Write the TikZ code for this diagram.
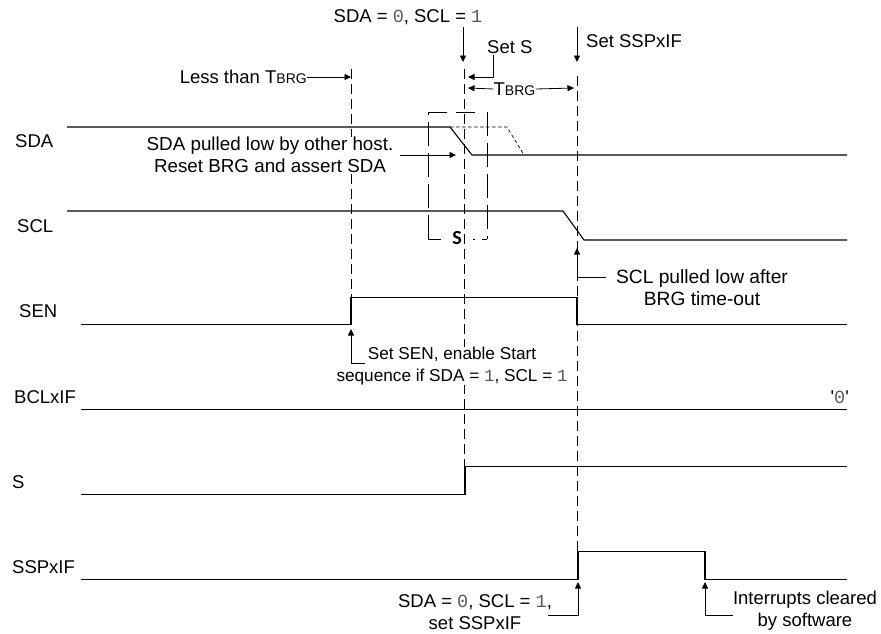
\documentclass[tikz,border=0pt]{standalone}
\usepackage{fontspec}
\setmainfont{Liberation Sans}
\newfontfamily\dig{Liberation Mono}
\newfontfamily\sboxfont{Carlito}
\usetikzlibrary{arrows.meta}
\newcommand{\dz}{{\dig\color{black!65}0}}
\newcommand{\dn}{{\dig\color{black!65}1}}
\newcommand{\brg}{T{\fontsize{14}{16}\selectfont BRG}}
\tikzset{
 x=1pt,y=-1pt,
 sig/.style={line width=1.1pt,black},
 guide/.style={line width=0.8pt,dash pattern=on 10pt off 5pt},
 boxdash/.style={line width=0.8pt,dash pattern=on 24pt off 7pt},
 thindash/.style={line width=0.7pt,dash pattern=on 3.5pt off 2.5pt},
 call/.style={line width=0.8pt,-{Triangle[length=6.5pt,width=6pt]}},
 stub/.style={line width=0.8pt},
 lbl/.style={inner sep=0pt,font=\fontsize{18.5}{22}\selectfont,align=center},
}
\begin{document}
\begin{tikzpicture}
\useasboundingbox (0,0) rectangle (881,633);
% guides
\coordinate (g1t) at (351,69); \coordinate (g1b) at (351,297);
\coordinate (g2t) at (464,69); \coordinate (g2b) at (464,495);
\coordinate (g3t) at (577,76); \coordinate (g3b) at (577,552);
\draw[guide] (g1t) -- (g1b);
\draw[guide] (g2t) -- (g2b);
\draw[guide] (g3t) -- (g3b);
% S box
\node[lbl,font=\fontsize{20}{22}\selectfont\sboxfont\bfseries] (sbox) at (457,238) {S};
\draw[boxdash] (428,239) -- (428,112);
\draw[stub] (428,112) -- (447,112) (456,112) -- (475,112);
\draw[boxdash] (487,112) -- (487,239);
\draw[stub] (428,239) -- (441,239) (473,239) -- (475,239) (482,239) -- (487,239);
% labels with white ground
\node[lbl,fill=white,inner xsep=1pt,inner ysep=0pt,font=\fontsize{18.8}{22}\selectfont] (tpull) at (270,155) {SDA pulled low by other host.\\Reset BRG and assert SDA};
\node[lbl,fill=white,inner xsep=1pt,inner ysep=0pt,font=\fontsize{17.2}{22}\selectfont] (tsen) at (452,366) {Set SEN, enable Start\\sequence if SDA = \dn, SCL = \dn};
% signals
\draw[sig] (67,127) -- (450,127) -- (472,155) -- (847,155);
\draw[thindash] (450,127) -- (507,127) -- (524,155);
\draw[sig] (67,211) -- (563,211) -- (584,240) -- (847,240);
\draw[sig] (81,324.4) -- (351,324.4) -- (351,297.4) -- (577,297.4) -- (577,324.4) -- (847,324.4);
\draw[sig] (81,409.4) -- (847,409.4);
\draw[sig] (81,494.4) -- (465,494.4) -- (465,466.4) -- (847,466.4);
\draw[sig] (81,579.4) -- (578,579.4) -- (578,551.4) -- (705,551.4) -- (705,579.4) -- (847,579.4);
% labels
\node[lbl,anchor=west] (lsda) at (15,141) {SDA};
\node[lbl,anchor=west] (lscl) at (17,226) {SCL};
\node[lbl,anchor=west] (lsen) at (19,311) {SEN};
\node[lbl,anchor=west] (lbcl) at (14,397) {BCLxIF};
\node[lbl,anchor=west] (ls) at (12,482) {S};
\node[lbl,anchor=west] (lssp) at (12,567) {SSPxIF};
\node[lbl,anchor=east] (lzero) at (849,397) {\textquotesingle\dz\textquotesingle};
\node[lbl] (tsda) at (408,17) {SDA = \dz, SCL = \dn};
\node[lbl,anchor=west] (tsets) at (487,47) {Set S};
\node[lbl,anchor=west] (tssp) at (586,41) {Set SSPxIF};
\node[lbl,anchor=east] (tless) at (307,77) {Less than \brg};
\node[lbl] (tbrg) at (514.5,89) {\brg};
\node[lbl,font=\fontsize{19.2}{22}\selectfont] (tscl) at (702,288) {SCL pulled low after\\BRG time-out};
\node[lbl] (tsdas) at (475,612) {SDA = \dz, SCL = \dn,\\set SSPxIF};
\node[lbl] (tint) at (805,611) {Interrupts cleared\\by software};
% callouts
\coordinate (a1s) at (463,27); \coordinate (a1e) at (463,62);
\draw[call] (a1s) -- (a1e);
\coordinate (a2s) at (577,27); \coordinate (a2e) at (577,62);
\draw[call] (a2s) -- (a2e);
\draw[call] (493,55) |- (468,77);
\draw[call] (tbrg.west) -- (468,88);
\draw[call] (tbrg.east) -- (574,88);
\draw[call] (tless.east) -- (351,77);
\draw[call] (400,155) -- (456,155);
\draw[call] (606,277) -| (577,248);
\draw[call] (365,363) -| (351,329);
\draw[call] (548,615) -| (578,582);
\draw[call] (733,615) -| (705,582);
\end{tikzpicture}
\end{document}
